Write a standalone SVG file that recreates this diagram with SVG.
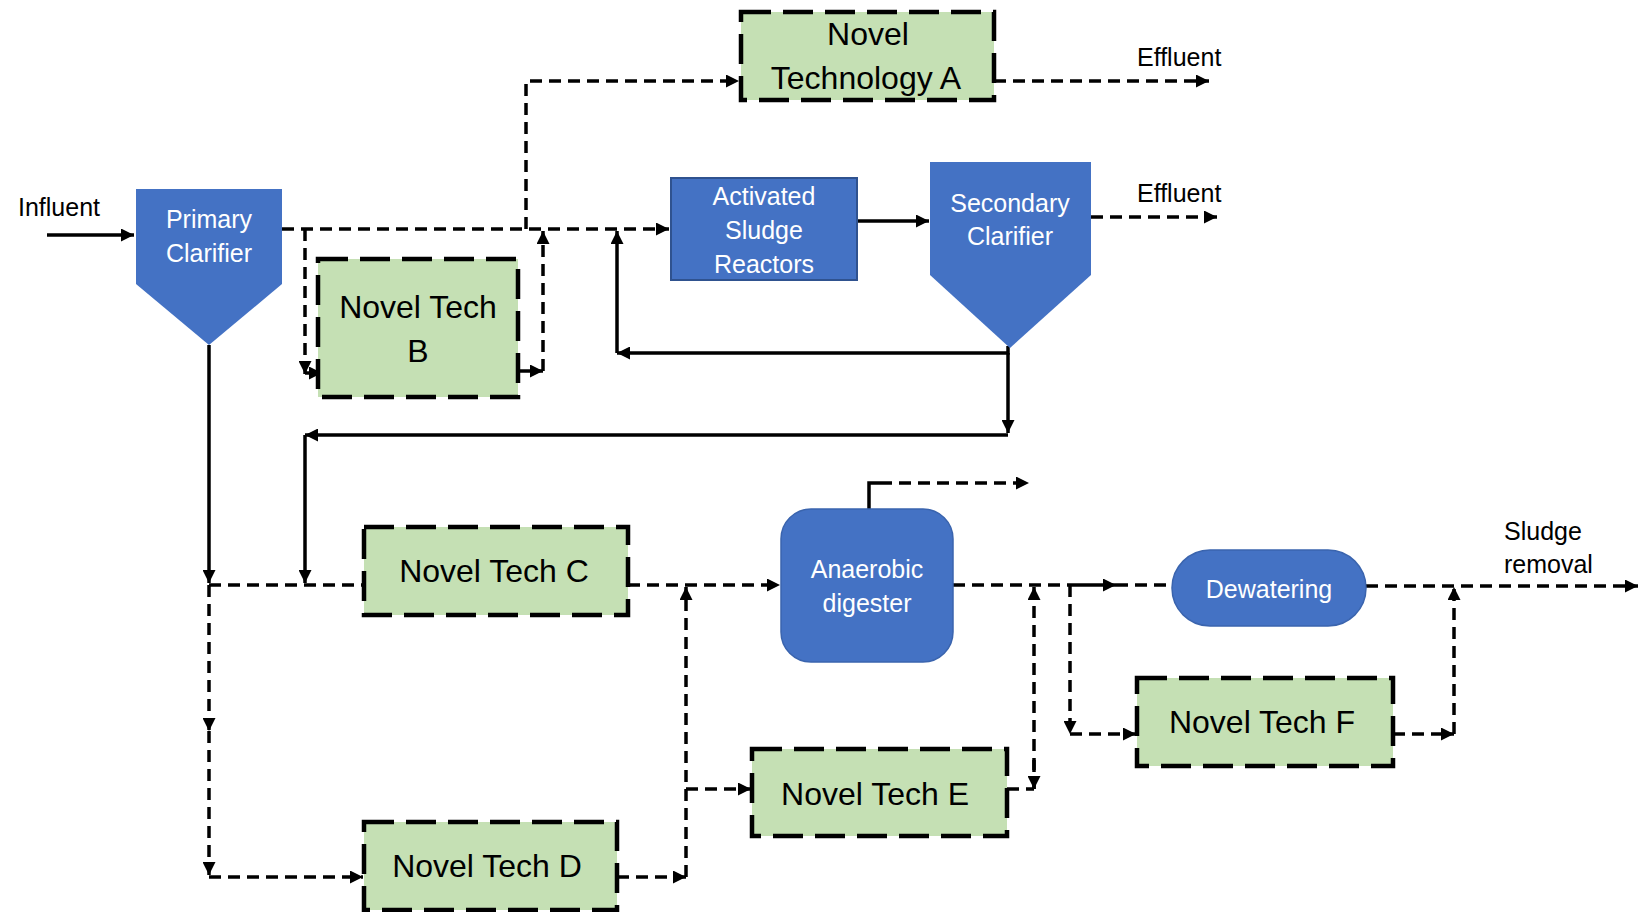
<svg xmlns="http://www.w3.org/2000/svg" width="1638" height="912" viewBox="0 0 1638 912">
<style>
.blue{fill:#4472C4;stroke:#3A64AE;stroke-width:1.5}
.green{fill:#C5E0B4;stroke:#000;stroke-width:4.5;stroke-dasharray:30 12}
.wt{font-family:"Liberation Sans",Arial,sans-serif;font-size:25px;fill:#fff;text-anchor:middle}
.gt{font-family:"Liberation Sans",Arial,sans-serif;font-size:32px;fill:#000;text-anchor:middle}
.lb{font-family:"Liberation Sans",Arial,sans-serif;font-size:25px;fill:#000}
.s{fill:none;stroke:#000;stroke-width:3.5}
.d{fill:none;stroke:#000;stroke-width:3.5;stroke-dasharray:12 7}
</style>
<defs>
<marker id="ah" viewBox="0 0 10 10" refX="10" refY="5" markerWidth="14" markerHeight="13" markerUnits="userSpaceOnUse" orient="auto"><path d="M0,0 L10,5 L0,10 z" fill="#000"/></marker>
</defs>
<rect width="1638" height="912" fill="#fff"/>

<g id="connectors">
<path class="s" d="M47,235 H134" marker-end="url(#ah)"/>
<path class="s" d="M857,221 H929" marker-end="url(#ah)"/>
<path class="s" d="M1008,346 V353 H617" marker-end="url(#ah)"/>
<path class="s" d="M617,353 V231" marker-end="url(#ah)"/>
<path class="s" d="M1008,353 V433" marker-end="url(#ah)"/>
<path class="s" d="M1008,435 H305" marker-end="url(#ah)"/>
<path class="s" d="M305,435 V583" marker-end="url(#ah)"/>
<path class="s" d="M209,345 V583" marker-end="url(#ah)"/>
<path class="s" d="M869,509 V483 H880"/>
<path class="d" d="M880,483 H1029" marker-end="url(#ah)"/>

<path class="d" d="M282,229 H669" marker-end="url(#ah)"/>
<path class="d" d="M526,229 V81 H739" marker-end="url(#ah)"/>
<path class="d" d="M994,81 H1209" marker-end="url(#ah)"/>
<path class="d" d="M1091,217 H1217" marker-end="url(#ah)"/>
<path class="d" d="M305,229 V374" marker-end="url(#ah)"/>
<path class="d" d="M305,373 H322" marker-end="url(#ah)"/>
<path class="d" d="M518,371 H543" marker-end="url(#ah)"/>
<path class="d" d="M543,371 V231" marker-end="url(#ah)"/>

<path class="d" d="M209,585 H364"/>
<path class="d" d="M209,585 V731" marker-end="url(#ah)"/>
<path class="d" d="M209,731 V875" marker-end="url(#ah)"/>
<path class="d" d="M209,877 H363" marker-end="url(#ah)"/>
<path class="d" d="M628,585 H780" marker-end="url(#ah)"/>
<path class="d" d="M617,877 H686" marker-end="url(#ah)"/>
<path class="d" d="M686,877 V587" marker-end="url(#ah)"/>
<path class="d" d="M686,789 H751" marker-end="url(#ah)"/>

<path class="d" d="M953,585 H1070"/>
<path class="s" d="M1070,585 H1116" marker-end="url(#ah)"/>
<path class="d" d="M1116,585 H1172"/>
<path class="d" d="M1007,789 H1034"/>
<path class="d" d="M1034,760 V789" marker-end="url(#ah)"/>
<path class="d" d="M1034,789 V587" marker-end="url(#ah)"/>
<path class="d" d="M1070,585 V734" marker-end="url(#ah)"/>
<path class="d" d="M1070,734 H1136" marker-end="url(#ah)"/>
<path class="d" d="M1393,734 H1454" marker-end="url(#ah)"/>
<path class="d" d="M1454,734 V587" marker-end="url(#ah)"/>
<path class="d" d="M1366,586 H1638" marker-end="url(#ah)"/>
</g>

<g id="labels">
<text class="lb" x="18" y="216">Influent</text>
<text class="lb" x="1137" y="66">Effluent</text>
<text class="lb" x="1137" y="202">Effluent</text>
<text class="lb" x="1504" y="540">Sludge</text>
<text class="lb" x="1504" y="573">removal</text>
</g>

<g id="primary-clarifier">
<polygon class="blue" points="136,189 282,189 282,284 209,345 136,284" style="stroke:none"/>
<text class="wt" x="209" y="228">Primary</text>
<text class="wt" x="209" y="262">Clarifier</text>
</g>

<g id="secondary-clarifier">
<polygon class="blue" points="930,162 1091,162 1091,275 1010,348 930,275" style="stroke:none"/>
<text class="wt" x="1010" y="212">Secondary</text>
<text class="wt" x="1010" y="245">Clarifier</text>
</g>

<g id="activated-sludge">
<rect class="blue" x="671" y="178" width="186" height="102" style="stroke:#2F528F;stroke-width:2"/>
<text class="wt" x="764" y="205">Activated</text>
<text class="wt" x="764" y="239">Sludge</text>
<text class="wt" x="764" y="273">Reactors</text>
</g>

<g id="anaerobic-digester">
<rect class="blue" x="781" y="509" width="172" height="153" rx="30"/>
<text class="wt" x="867" y="578">Anaerobic</text>
<text class="wt" x="867" y="612">digester</text>
</g>

<g id="dewatering">
<rect class="blue" x="1172" y="550" width="194" height="76" rx="38"/>
<text class="wt" x="1269" y="598">Dewatering</text>
</g>

<g id="novel-a">
<rect class="green" x="741" y="12" width="253" height="88"/>
<text class="gt" x="868" y="45">Novel</text>
<text class="gt" x="866" y="89">Technology A</text>
</g>

<g id="novel-b">
<rect class="green" x="318" y="259" width="200" height="138"/>
<text class="gt" x="418" y="318">Novel Tech</text>
<text class="gt" x="418" y="362">B</text>
</g>

<g id="novel-c">
<rect class="green" x="364" y="527" width="264" height="88"/>
<text class="gt" x="494" y="582">Novel Tech C</text>
</g>

<g id="novel-d">
<rect class="green" x="364" y="822" width="253" height="88"/>
<text class="gt" x="487" y="877">Novel Tech D</text>
</g>

<g id="novel-e">
<rect class="green" x="752" y="749" width="255" height="87"/>
<text class="gt" x="875" y="805">Novel Tech E</text>
</g>

<g id="novel-f">
<rect class="green" x="1137" y="678" width="256" height="88"/>
<text class="gt" x="1262" y="733">Novel Tech F</text>
</g>
</svg>
